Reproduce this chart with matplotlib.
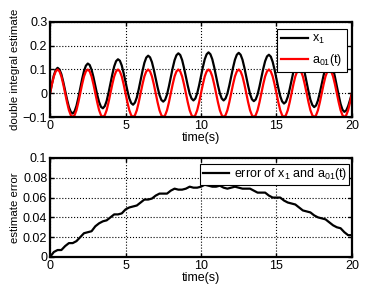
import numpy as np
import matplotlib
matplotlib.use('Agg')
import matplotlib.pyplot as plt

# sample times for the upper plot (0.125 s step)
t = np.arange(0, 20.001, 0.125)

# reference signal a01(t) (one 2 s period repeated)
a01_period = [0.0, 0.038, 0.071, 0.092, 0.1, 0.092, 0.071, 0.038,
              0.0, -0.038, -0.071, -0.092, -0.1, -0.092, -0.071, -0.038]
a01 = a01_period * 10 + [0.0]

# double integral estimate x1 (one row per 2 s)
x1 = [0.000, 0.040, 0.075, 0.098, 0.107, 0.100, 0.080, 0.048,
      0.011, -0.026, -0.058, -0.078, -0.085, -0.076, -0.053, -0.019,
      0.020, 0.060, 0.094, 0.116, 0.125, 0.119, 0.099, 0.068,
      0.031, -0.006, -0.037, -0.057, -0.063, -0.054, -0.032, 0.002,
      0.040, 0.079, 0.113, 0.135, 0.143, 0.137, 0.117, 0.085,
      0.048, 0.011, -0.021, -0.041, -0.048, -0.039, -0.017, 0.017,
      0.055, 0.094, 0.128, 0.150, 0.158, 0.151, 0.131, 0.099,
      0.062, 0.025, -0.007, -0.028, -0.035, -0.027, -0.005, 0.029,
      0.067, 0.106, 0.139, 0.160, 0.168, 0.161, 0.140, 0.107,
      0.069, 0.032, -0.001, -0.022, -0.030, -0.022, 0.000, 0.033,
      0.071, 0.110, 0.143, 0.164, 0.172, 0.164, 0.143, 0.110,
      0.071, 0.033, 0.000, -0.022, -0.030, -0.022, -0.001, 0.032,
      0.070, 0.108, 0.141, 0.162, 0.170, 0.162, 0.141, 0.108,
      0.069, 0.031, -0.003, -0.025, -0.033, -0.026, -0.005, 0.028,
      0.065, 0.103, 0.135, 0.155, 0.162, 0.154, 0.132, 0.099,
      0.060, 0.022, -0.012, -0.034, -0.043, -0.036, -0.015, 0.017,
      0.054, 0.091, 0.123, 0.143, 0.150, 0.141, 0.119, 0.085,
      0.046, 0.007, -0.027, -0.049, -0.058, -0.051, -0.030, 0.002,
      0.039, 0.076, 0.108, 0.128, 0.135, 0.126, 0.104, 0.069,
      0.030, -0.009, -0.045, -0.069, -0.078, -0.072, -0.054, -0.028,
      0.000]

# estimate error, 0.25 s step
t_err = np.arange(0, 20.001, 0.25)
err = [0.000, 0.005, 0.007, 0.007, 0.011, 0.014, 0.014, 0.016,
       0.020, 0.024, 0.025, 0.026, 0.031, 0.034, 0.036, 0.037,
       0.040, 0.043, 0.043, 0.044, 0.048, 0.050, 0.051, 0.052,
       0.055, 0.058, 0.058, 0.059, 0.062, 0.064, 0.064, 0.064,
       0.067, 0.069, 0.068, 0.068, 0.069, 0.071, 0.070, 0.070,
       0.071, 0.073, 0.072, 0.071, 0.071, 0.072, 0.070, 0.069,
       0.070, 0.071, 0.070, 0.069, 0.069, 0.069, 0.067, 0.065,
       0.065, 0.065, 0.062, 0.060, 0.060, 0.060, 0.057, 0.055,
       0.054, 0.053, 0.050, 0.047, 0.046, 0.045, 0.042, 0.040,
       0.039, 0.038, 0.035, 0.032, 0.030, 0.029, 0.025, 0.022,
       0.022]

xticks = [0, 5, 10, 15, 20]
top_yticks = [-0.1, 0, 0.1, 0.2, 0.3]
top_ylabels = ['\u22120.1', '0', '0.1', '0.2', '0.3']
bot_yticks = [0, 0.02, 0.04, 0.06, 0.08, 0.1]
bot_ylabels = ['0', '0.02', '0.04', '0.06', '0.08', '0.1']

plt.rcParams['font.family'] = ['Liberation Sans', 'DejaVu Sans']
plt.rcParams['mathtext.fontset'] = 'custom'
plt.rcParams['mathtext.rm'] = 'Liberation Sans'
plt.rcParams['mathtext.it'] = 'Liberation Sans'
plt.rcParams['font.size'] = 9

fig = plt.figure(figsize=(3.88, 2.92), dpi=100)
ax1 = fig.add_axes([0.129, 0.599, 0.778, 0.326])
ax2 = fig.add_axes([0.129, 0.120, 0.778, 0.339])


def style(ax):
    # matlab-like box, inward ticks, dotted grid
    for s in ax.spines.values():
        s.set_linewidth(1.6)
    ax.tick_params(direction='in', top=True, right=True, length=3,
                   width=1.0, pad=2, labelsize=9)
    ax.grid(True, linestyle=':', color='black', linewidth=0.8)
    ax.set_axisbelow(True)
    ax.set_xlim(0, 20)
    ax.set_xticks(xticks)
    ax.set_xticklabels([str(v) for v in xticks])
    ax.set_xlabel('time(s)', labelpad=0)


ax1.plot(t, x1, color='black', lw=1.6, label='x$_1$')
ax1.plot(t, a01, color='red', lw=1.6, label='a$_{01}$(t)')
style(ax1)
ax1.set_ylim(-0.1, 0.3)
ax1.set_yticks(top_yticks)
ax1.set_yticklabels(top_ylabels)
ax1.set_ylabel('double integral estimate', fontsize=8.2, labelpad=2)
leg = ax1.legend(loc='upper right', fancybox=False, edgecolor='black',
                 framealpha=1, handlelength=2.1, handletextpad=0.35,
                 fontsize=9, borderaxespad=0.3, borderpad=0.35,
                 labelspacing=0.45, bbox_to_anchor=(0.995, 0.965))
leg.get_frame().set_linewidth(0.8)

ax2.plot(t_err, err, color='black', lw=1.6, label='error of x$_1$ and a$_{01}$(t)')
style(ax2)
ax2.set_ylim(0, 0.1)
ax2.set_yticks(bot_yticks)
ax2.set_yticklabels(bot_ylabels)
ax2.set_ylabel('estimate error', fontsize=8.2, labelpad=2)
leg2 = ax2.legend(loc='upper right', fancybox=False, edgecolor='black',
                  framealpha=1, handlelength=2.1, handletextpad=0.35,
                  fontsize=9, borderaxespad=0.2, borderpad=0.2,
                  bbox_to_anchor=(1.0, 0.965))
leg2.get_frame().set_linewidth(0.8)

fig.savefig('out.png', dpi=100)
